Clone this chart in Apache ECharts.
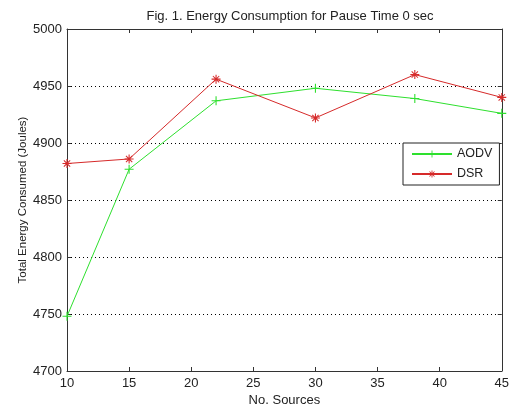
<!DOCTYPE html>
<html>
<head>
<meta charset="utf-8">
<script src="https://cdn.jsdelivr.net/npm/echarts@6/dist/echarts.min.js"></script>
<style>
  html, body { margin: 0; padding: 0; background: #fff; }
  #chart { width: 512px; height: 412px; }
</style>
</head>
<body>
<div id="chart"></div>
<script>
// Number of sources on the x axis
const sources = [10, 15, 22, 30, 38, 45];
// Total energy consumed (Joules) per protocol
const aodv = [4748, 4877, 4937, 4948, 4939, 4926];
const dsr = [4882, 4886, 4956, 4922, 4960, 4940];
const seriesNames = ['AODV', 'DSR'];

const titleText = 'Fig. 1. Energy Consumption for Pause Time 0 sec';
const xName = 'No. Sources';
const yName = 'Total Energy Consumed (Joules)';

// '+' marker as a filled cross
const plusPath = 'path://M-0.12,-1H0.12V-0.12H1V0.12H0.12V1H-0.12V0.12H-1V-0.12H-0.12Z';
// '*' marker: plus overlaid with an x
const starPath = 'path://M-0.12,-1H0.12V1H-0.12Z M-1,-0.12H1V0.12H-1Z ' +
  'M-0.78,-0.62L-0.62,-0.78L0.78,0.62L0.62,0.78Z M0.62,-0.78L0.78,-0.62L-0.62,0.78L-0.78,0.62Z';

const green = '#2ee02e';
const red = '#d62a2a';
const font = 'Liberation Sans, Arial, sans-serif';
const axisColor = '#333';
const textColor = '#222';

const pairs = (ys) => sources.map((x, i) => [x, ys[i]]);

const chart = echarts.init(document.getElementById('chart'), null, { renderer: 'canvas' });

// mirrored axes that close the box, ticks only
const boxAxis = {
  axisLine: { show: true, lineStyle: { color: axisColor, width: 1 } },
  axisTick: { show: true, inside: true, length: 4, lineStyle: { color: axisColor } },
  axisLabel: { show: false },
  splitLine: { show: false }
};

chart.setOption({
  animation: false,
  backgroundColor: '#fff',
  title: {
    text: titleText,
    left: 285,
    textAlign: 'center',
    top: 5,
    textStyle: { fontFamily: font, fontSize: 13, fontWeight: 'normal', color: textColor }
  },
  grid: { left: 67, right: 7, top: 29, bottom: 39, containLabel: false },
  legend: {
    data: seriesNames,
    orient: 'vertical',
    left: 403,
    top: 143,
    padding: [4, 7, 4, 8],
    itemGap: 6,
    itemWidth: 40,
    itemHeight: 9,
    borderColor: '#222',
    borderWidth: 1,
    borderRadius: 0,
    backgroundColor: '#fff',
    textStyle: { fontFamily: font, fontSize: 12.5, color: textColor, lineHeight: 14 }
  },
  xAxis: [
    {
      type: 'value',
      min: 10, max: 45, interval: 5,
      position: 'bottom',
      name: xName,
      nameLocation: 'middle',
      nameGap: 23,
      nameMoveOverlap: false,
      nameTextStyle: { fontFamily: font, fontSize: 13, color: textColor },
      axisLine: { show: true, lineStyle: { color: axisColor, width: 1 } },
      axisTick: { show: true, inside: true, length: 4, lineStyle: { color: axisColor } },
      axisLabel: { fontFamily: font, fontSize: 13, color: textColor, margin: 6 },
      splitLine: { show: false }
    },
    Object.assign({ type: 'value', min: 10, max: 45, interval: 5, position: 'top' }, boxAxis)
  ],
  yAxis: [
    {
      type: 'value',
      min: 4700, max: 5000, interval: 50,
      position: 'left',
      name: yName,
      nameLocation: 'middle',
      nameGap: 38,
      nameMoveOverlap: false,
      nameTextStyle: { fontFamily: font, fontSize: 11.5, color: textColor },
      axisLine: { show: true, lineStyle: { color: axisColor, width: 1 } },
      axisTick: { show: true, inside: true, length: 4, lineStyle: { color: axisColor } },
      axisLabel: { fontFamily: font, fontSize: 13, color: textColor, margin: 5, formatter: (v) => String(v) },
      splitLine: { show: true, lineStyle: { color: '#000', width: 1, type: [1, 3] } }
    },
    Object.assign({ type: 'value', min: 4700, max: 5000, interval: 50, position: 'right' }, boxAxis)
  ],
  series: [
    {
      name: seriesNames[0],
      type: 'line',
      data: pairs(aodv),
      symbol: plusPath,
      symbolSize: 9,
      showAllSymbol: true,
      lineStyle: { color: green, width: 1 },
      itemStyle: { color: green, borderWidth: 0 }
    },
    {
      name: seriesNames[1],
      type: 'line',
      data: pairs(dsr),
      symbol: starPath,
      symbolSize: 9,
      showAllSymbol: true,
      lineStyle: { color: red, width: 1 },
      itemStyle: { color: red, borderWidth: 0 }
    }
  ]
});
</script>
</body>
</html>
